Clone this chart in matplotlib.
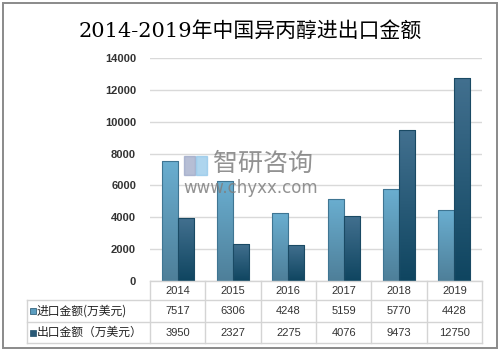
import numpy as np
import matplotlib.pyplot as plt
from matplotlib.colors import LinearSegmentedColormap
from matplotlib.patches import Rectangle

years = ["2014", "2015", "2016", "2017", "2018", "2019"]
imports = [7517, 6306, 4248, 5159, 5770, 4428]
exports = [3950, 2327, 2275, 4076, 9473, 12750]
series_names = ["进口金额(万美元)", "出口金额（万美元）"]
title = "2014-2019年中国异丙醇进出口金额"

W, H = 501, 352
fig = plt.figure(figsize=(W / 100, H / 100), dpi=100)
fig.patch.set_facecolor("white")

def fx(px):
    return px / W

def fy(py):
    return 1 - py / H

# outer border
fig.add_artist(Rectangle((fx(3), fy(348)), fx(494), 345 / H, transform=fig.transFigure,
                         fill=False, edgecolor="#8a8a8a", linewidth=1.4))

fig.text(0.5, fy(31), title, ha="center", va="center", fontsize=15,
         family=["DejaVu Serif", "Noto Sans CJK SC"], color="black")

ax_l, ax_r, ax_t, ax_b = 150, 482, 58, 281
ax = fig.add_axes([fx(ax_l), fy(ax_b), (ax_r - ax_l) / W, (ax_b - ax_t) / H])
ax.set_yticks(range(0, 14001, 2000))
ax.yaxis.grid(True, color="#d9d9d9", linewidth=1)
ax.set_axisbelow(True)
for s in ax.spines.values():
    s.set_visible(False)
ax.tick_params(axis="y", length=0, pad=10, labelsize=8, labelcolor="#333333")
ax.tick_params(axis="x", length=0, labelbottom=False)
for lab in ax.get_yticklabels():
    lab.set_family("Liberation Sans")
    lab.set_fontweight("bold")

imp_cmap = LinearSegmentedColormap.from_list("imp", ["#4e7f99", "#6aaed0"])
exp_cmap = LinearSegmentedColormap.from_list("exp", ["#0f4560", "#42708f"])
grad = np.linspace(0, 1, 100).reshape(-1, 1)
bw = 0.29
x = np.arange(len(years))
for vals, cmap, off, edge in [(imports, imp_cmap, -bw / 2, "#3f7592"),
                              (exports, exp_cmap, bw / 2, "#1a4a64")]:
    bars = ax.bar(x + off, vals, width=bw, color="none", edgecolor=edge, linewidth=0.8, zorder=3)
    for b in bars:
        x0, y0 = b.get_x(), b.get_y()
        im = ax.imshow(grad, cmap=cmap, aspect="auto", origin="lower",
                       extent=[x0, x0 + b.get_width(), y0, y0 + b.get_height()], zorder=2)
        im.set_clip_path(b)
ax.set_xlim(-0.5, len(years) - 0.5)
ax.set_ylim(0, 14000)

# watermark (logo blocks + text)
fig.add_artist(Rectangle((fx(184), fy(175)), 11 / W, 19 / H, transform=fig.transFigure,
                         color="#97a3c4", alpha=0.7, zorder=5))
fig.add_artist(Rectangle((fx(196), fy(175)), 11 / W, 19 / H, transform=fig.transFigure,
                         color="#8cc4e8", alpha=0.7, zorder=5))
fig.text(fx(263), fy(164), "智研咨询", ha="center", va="center", fontsize=18,
         family="Noto Sans CJK SC", color="#7f7f7f", alpha=0.85, zorder=5)
fig.text(fx(251), fy(188), "www.chyxx.com", ha="center", va="center", fontsize=12,
         family="DejaVu Sans", color="#7f7f7f", alpha=0.85, zorder=5)

# data table under the axes
col_edges = np.linspace(ax_l, ax_r, len(years) + 1)
row_edges = [281, 300, 322, 343]
left_edge = 27
grid_c = "#d4d4d4"
lw = 1.0
fig.add_artist(plt.Line2D([fx(ax_l), fx(ax_r)], [fy(row_edges[0])] * 2, transform=fig.transFigure, color=grid_c, lw=lw))
for ry in row_edges[1:]:
    fig.add_artist(plt.Line2D([fx(left_edge), fx(ax_r)], [fy(ry)] * 2, transform=fig.transFigure, color=grid_c, lw=lw))
for cx in col_edges:
    fig.add_artist(plt.Line2D([fx(cx)] * 2, [fy(row_edges[0]), fy(row_edges[-1])], transform=fig.transFigure, color=grid_c, lw=lw))
fig.add_artist(plt.Line2D([fx(left_edge)] * 2, [fy(row_edges[1]), fy(row_edges[-1])], transform=fig.transFigure, color=grid_c, lw=lw))

centers = (col_edges[:-1] + col_edges[1:]) / 2
num_font = dict(fontsize=8, family="Liberation Sans", color="#333333", ha="center", va="center")
for cx, yr in zip(centers, years):
    fig.text(fx(cx), fy((row_edges[0] + row_edges[1]) / 2), yr, **num_font)
for r, (vals, name, col) in enumerate([(imports, series_names[0], "#5b9dbf"),
                                        (exports, series_names[1], "#2a5a77")]):
    yc = (row_edges[r + 1] + row_edges[r + 2]) / 2
    fig.add_artist(Rectangle((fx(30), fy(yc + 3)), 6 / W, 6 / H, transform=fig.transFigure,
                             facecolor=col, edgecolor="#1f4f6a", lw=0.5))
    fig.text(fx(37), fy(yc), name, ha="left", va="center", fontsize=8.5,
             family=["Noto Sans CJK SC"], color="#222222")
    for cx, v in zip(centers, vals):
        fig.text(fx(cx), fy(yc), str(v), **num_font)

fig.savefig("out.png", dpi=100)
